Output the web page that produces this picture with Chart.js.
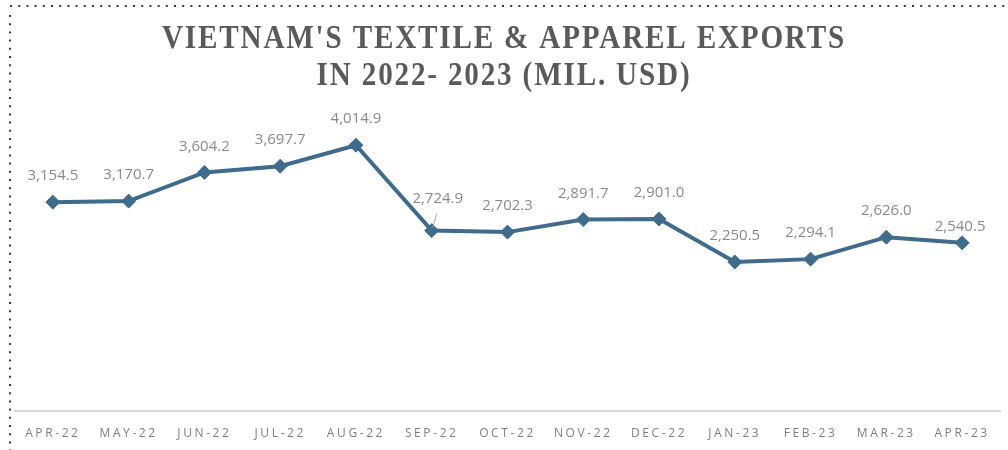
<!DOCTYPE html>
<html>
<head>
<meta charset="utf-8">
<script src="https://cdn.jsdelivr.net/npm/chart.js@4.4.1/dist/chart.umd.min.js"></script>
<style>
  html, body { margin: 0; padding: 0; background: #ffffff; }
  #wrap { width: 1008px; height: 450px; position: relative; }
</style>
</head>
<body>
<div id="wrap"><canvas id="c" width="1008" height="450"></canvas></div>
<script>
// Monthly textile & apparel exports, million USD
const months = ['APR-22', 'MAY-22', 'JUN-22', 'JUL-22', 'AUG-22', 'SEP-22', 'OCT-22',
                'NOV-22', 'DEC-22', 'JAN-23', 'FEB-23', 'MAR-23', 'APR-23'];
const exportsMilUsd = [3154.5, 3170.7, 3604.2, 3697.7, 4014.9, 2724.9, 2702.3,
                       2891.7, 2901.0, 2250.5, 2294.1, 2626.0, 2540.5];
const titleLines = ["VIETNAM'S TEXTILE & APPAREL EXPORTS", 'IN 2022- 2023 (MIL. USD)'];

const LINE_COLOR = '#3f6b8d';
const LABEL_COLOR = '#8a8a8a';

const fmt = v => v.toLocaleString('en-US', { minimumFractionDigits: 1, maximumFractionDigits: 1 });

// Dotted frame along the top and left edges
const framePlugin = {
  id: 'frame',
  beforeDraw(chart) {
    const ctx = chart.ctx;
    ctx.save();
    ctx.strokeStyle = '#3a3a3a';
    ctx.lineWidth = 2;
    ctx.setLineDash([2, 6.2]);
    ctx.beginPath();
    ctx.moveTo(10, 6); ctx.lineTo(1008, 6);
    ctx.moveTo(10, 15); ctx.lineTo(10, 450);
    ctx.stroke();
    ctx.restore();
    // spaced-out capitals for the month labels
    ctx.letterSpacing = '2.6px';
  },
  beforeDatasetsDraw(chart) {
    chart.ctx.letterSpacing = '0px';
  }
};

// Two-line heading, slightly condensed
const headingPlugin = {
  id: 'heading',
  afterDraw(chart) {
    const ctx = chart.ctx;
    ctx.save();
    ctx.font = 'bold 32px "Liberation Serif", "DejaVu Serif", serif';
    ctx.letterSpacing = '2px';
    ctx.fillStyle = '#5a5a5a';
    ctx.textBaseline = 'alphabetic';
    ctx.textAlign = 'center';
    const w1 = ctx.measureText(titleLines[0]).width;
    const sx = 684 / w1;
    const cx = 504;
    const baselines = [48, 85];
    titleLines.forEach((t, i) => {
      ctx.save();
      ctx.translate(cx, baselines[i]);
      ctx.scale(sx, 1.05);
      ctx.fillText(t, 0, 0);
      ctx.restore();
    });
    ctx.restore();
  }
};

// Value labels above each marker
const labelShift = { 5: { dx: 6, dy: -32, leader: true }, 12: { dx: -2, dy: -16 } };
const valueLabelPlugin = {
  id: 'valueLabels',
  afterDatasetsDraw(chart) {
    const ctx = chart.ctx;
    const meta = chart.getDatasetMeta(0);
    ctx.save();
    ctx.font = '15px "Open Sans", "Liberation Sans", sans-serif';
    ctx.fillStyle = LABEL_COLOR;
    ctx.textAlign = 'center';
    ctx.textBaseline = 'middle';
    meta.data.forEach((pt, i) => {
      const s = labelShift[i] || { dx: 0, dy: -26 };
      const lx = pt.x + s.dx, ly = pt.y + s.dy;
      ctx.fillText(fmt(exportsMilUsd[i]), lx, ly);
      if (s.leader) {
        ctx.save();
        ctx.strokeStyle = '#a6a6a6';
        ctx.lineWidth = 1;
        ctx.beginPath();
        ctx.moveTo(lx - 1, ly + 15);
        ctx.lineTo(pt.x + 1, pt.y - 3);
        ctx.stroke();
        ctx.restore();
      }
    });
    ctx.restore();
  }
};

new Chart(document.getElementById('c'), {
  type: 'line',
  data: {
    labels: months,
    datasets: [{
      data: exportsMilUsd,
      borderColor: LINE_COLOR,
      backgroundColor: LINE_COLOR,
      borderWidth: 4,
      pointStyle: 'rectRot',
      pointRadius: 7,
      pointBorderWidth: 1,
      pointBackgroundColor: LINE_COLOR,
      pointBorderColor: LINE_COLOR,
      tension: 0,
      fill: false
    }]
  },
  options: {
    responsive: false,
    animation: false,
    devicePixelRatio: 1,
    layout: { padding: { top: 80, left: 15, right: 5, bottom: 0 } },
    plugins: {
      legend: { display: false },
      title: { display: false },
      tooltip: { enabled: false }
    },
    scales: {
      x: {
        offset: true,
        grid: { display: false, drawTicks: false },
        border: { display: true, color: '#d9d9d9', width: 2 },
        afterFit(scale) { scale.height = 39; },
        ticks: {
          color: '#7f7f7f',
          padding: 15,
          maxRotation: 0,
          autoSkip: false,
          font: { family: '"Open Sans", "Liberation Sans", sans-serif', size: 12 }
        }
      },
      y: {
        display: false,
        min: 0,
        max: 5000
      }
    }
  },
  plugins: [framePlugin, valueLabelPlugin, headingPlugin]
});
</script>
</body>
</html>
